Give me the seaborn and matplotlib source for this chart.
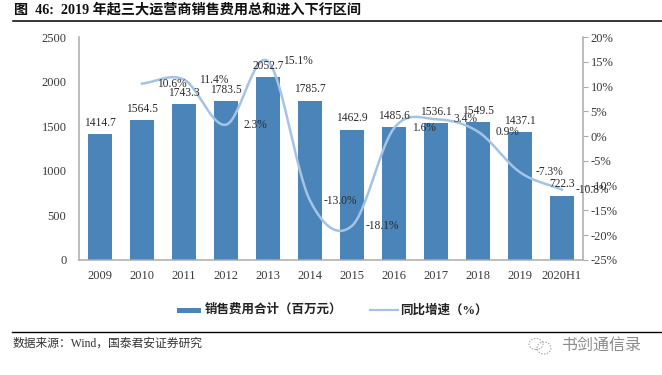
import numpy as np
import pandas as pd
import seaborn as sns
import matplotlib
matplotlib.use("Agg")
import matplotlib.pyplot as plt
from matplotlib.patches import Rectangle, Ellipse
from matplotlib.lines import Line2D

years = ["2009", "2010", "2011", "2012", "2013", "2014", "2015", "2016", "2017", "2018", "2019", "2020H1"]
expense = [1414.7, 1564.5, 1743.3, 1783.5, 2052.7, 1785.7, 1462.9, 1485.6, 1536.1, 1549.5, 1437.1, 722.3]
growth_years = years[1:]
growth = [10.6, 11.4, 2.3, 15.1, -13.0, -18.1, 1.6, 3.4, 0.9, -7.3, -10.8]

title = "图  46:  2019 年起三大运营商销售费用总和进入下行区间"
legend_bar = "销售费用合计\uff08百万元\uff09"
legend_line = "同比增速\uff08%\uff09"
source = "数据来源\uff1aWind\uff0c国泰君安证券研究"
watermark = "书剑通信录"

BAR = "#4a84b9"
LINE = "#a3c4e6"
AXIS = "#ababab"
TXT = "#2b2b2b"
FAM = ["Liberation Serif", "Noto Sans CJK SC"]
plt.rcParams["font.family"] = FAM

W, H = 662, 375
fig = plt.figure(figsize=(W / 100, H / 100), dpi=100, facecolor="white")
L, R, T, B = 79, 583, 37, 260
ax = fig.add_axes([L / W, 1 - B / H, (R - L) / W, (B - T) / H])

df = pd.DataFrame({"year": years, "expense": expense})
sns.barplot(data=df, x="year", y="expense", color=BAR, saturation=1, width=0.57, ax=ax, zorder=2)
ax.set_xlim(-0.5, 11.5)
ax.set_ylim(0, 2500)
ax.set_yticks(range(0, 2501, 500))
ax.set_xlabel("")
ax.set_ylabel("")
ax.tick_params(axis="both", length=0, labelsize=9, labelcolor="#3a3a3a")
ax.tick_params(axis="x", pad=7)
ax.tick_params(axis="y", pad=9)
for s in ("top", "right"):
    ax.spines[s].set_visible(False)
for s in ("left", "bottom"):
    ax.spines[s].set_color(AXIS)
    ax.spines[s].set_linewidth(1.1)

ax2 = ax.twinx()
ax2.set_ylim(-25, 20)
ax2.set_yticks(range(-25, 21, 5))
ax2.set_yticklabels([f"{v}%" for v in range(-25, 21, 5)])
ax2.tick_params(axis="y", length=3.5, width=0.8, color=AXIS, labelsize=9, labelcolor="#3a3a3a", pad=2)
for s in ("top", "left", "bottom"):
    ax2.spines[s].set_visible(False)
ax2.spines["right"].set_color(AXIS)
ax2.spines["right"].set_linewidth(1.1)

# Smoothed rendering of the growth series (Catmull-Rom, as spreadsheet "smooth line")
gx = np.array([years.index(y) for y in growth_years], dtype=float)
gy = np.array(growth, dtype=float)
tang = np.gradient(gy)
tang[1:-1] = (gy[2:] - gy[:-2]) / 2
sx, sy = [], []
for i in range(len(gx) - 1):
    t = np.linspace(0, 1, 30)
    h00 = 2 * t**3 - 3 * t**2 + 1
    h10 = t**3 - 2 * t**2 + t
    h01 = -2 * t**3 + 3 * t**2
    h11 = t**3 - t**2
    sx.extend(gx[i] + t)
    sy.extend(h00 * gy[i] + h10 * tang[i] + h01 * gy[i + 1] + h11 * tang[i + 1])
sns.lineplot(x=sx, y=sy, ax=ax2, color=LINE, linewidth=1.8, estimator=None, sort=False, zorder=3)
ax2.set_xlim(-0.5, 11.5)
ax2.set_ylabel("")

ax.set_zorder(1)
ax2.set_zorder(2)
ax2.patch.set_visible(False)

for i, v in enumerate(expense):
    ax2.annotate(f"{v:.1f}", xy=(i, v / 2500 * 45 - 25), xytext=(0, 3.8), textcoords="offset points",
                 ha="center", va="bottom", fontsize=8.3, color=TXT, annotation_clip=False)
for x_, v in zip(gx, growth):
    ax2.annotate(f"{v:.1f}%", xy=(x_, v), xytext=(21.5, 0), textcoords="offset points",
                 ha="center", va="center", fontsize=8.3, color=TXT, annotation_clip=False)

fig.text(14 / W, 1 - 10 / H, title, fontsize=10.2, fontweight="bold", color="#111111", va="center", ha="left")
fig.add_artist(Line2D([13 / W, 1], [1 - 20.5 / H] * 2, color="black", lw=1.1))
fig.add_artist(Line2D([12 / W, 1], [1 - 332 / H] * 2, color="black", lw=1.0))

fig.add_artist(Rectangle((177 / W, 1 - 313 / H), 24 / W, 5.5 / H, transform=fig.transFigure, color=BAR, lw=0))
fig.text(205 / W, 1 - 310 / H, legend_bar, fontsize=9, fontweight="bold", color="#222222", va="center", ha="left")
fig.add_artist(Line2D([370 / W, 398 / W], [1 - 310 / H] * 2, color=LINE, lw=1.6))
fig.text(400 / W, 1 - 310 / H, legend_line, fontsize=9, fontweight="bold", color="#222222", va="center", ha="left")

fig.text(13 / W, 1 - 344 / H, source, fontsize=8.5, color="#333333", va="center", ha="left")
fig.text(561 / W, 1 - 345 / H, watermark, fontsize=11.5, color="#8c8c8c", va="center", ha="left",
         family=["Noto Sans CJK SC"])
for cx, cy, rx, ry in [(536, 344, 7, 5.5), (544, 348, 7, 6)]:
    fig.add_artist(Ellipse((cx / W, 1 - cy / H), 2 * rx / W, 2 * ry / H, transform=fig.transFigure,
                           fill=False, ec="#9a9a9a", lw=0.7, ls=(0, (1.5, 1.5))))

fig.savefig("out.png", dpi=100, facecolor="white")
